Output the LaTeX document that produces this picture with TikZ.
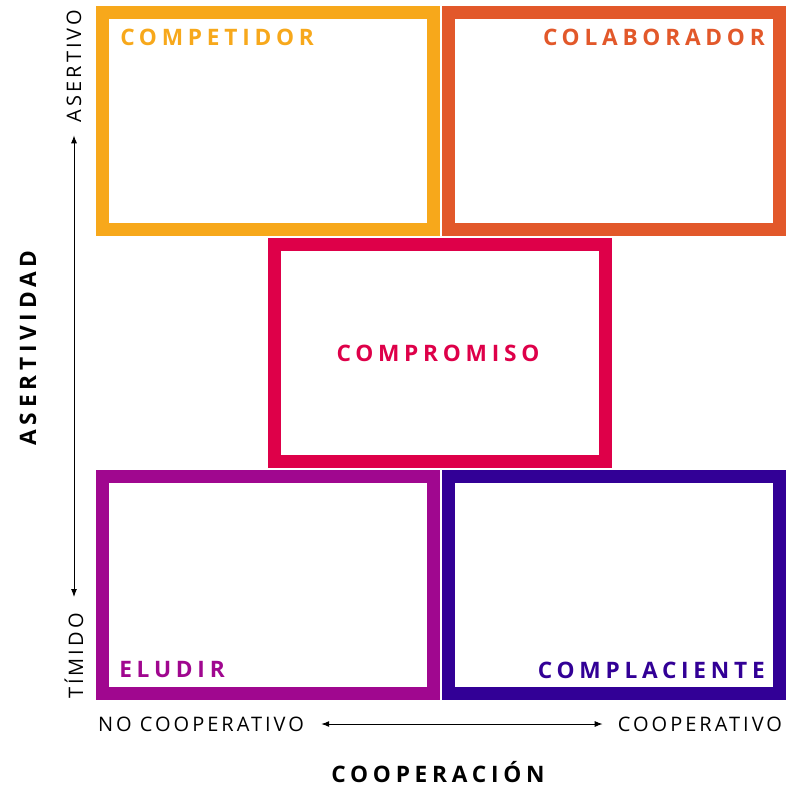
\documentclass[tikz,border=0pt]{standalone}
\usepackage{fontspec}
\usetikzlibrary{arrows.meta}
\setmainfont{Open Sans}
\newfontfamily\titulofont[LetterSpace=21]{Open Sans}
\newfontfamily\ejefont[LetterSpace=15]{Open Sans}
\definecolor{amarillo}{HTML}{F7A81B}
\definecolor{naranja}{HTML}{E2582A}
\definecolor{carmin}{HTML}{DE0049}
\definecolor{morado}{HTML}{A0078F}
\definecolor{anil}{HTML}{320096}

\begin{document}
\begin{tikzpicture}[x=0.75pt,y=-0.75pt,
  caja/.style={draw=#1,line width=9.75pt,minimum width=248.25pt,minimum height=162.75pt,inner sep=0pt},
  titulo/.style={text=#1,font=\titulofont\bfseries\fontsize{17}{19}\selectfont,inner sep=0pt},
  eje/.style={font=\ejefont\fontsize{15}{17}\selectfont,inner sep=0pt},
  ejetitulo/.style={font=\titulofont\bfseries\fontsize{17}{19}\selectfont,inner sep=0pt},
  flecha/.style={line width=0.75pt,{Latex[length=6pt,width=4.5pt]}-{Latex[length=6pt,width=4.5pt]}}]
\useasboundingbox (0,0) rectangle (789,792);

% cajas
\node[caja=amarillo] (competidor) at (268,121) {};
\node[caja=naranja] (colaborador) at (614,121) {};
\node[caja=carmin] (compromiso) at (440,353) {};
\node[caja=morado] (eludir) at (268,585) {};
\node[caja=anil] (complaciente) at (614,585) {};

% nombres
\node[titulo=amarillo,anchor=west] (tcompetidor) at (120,37) {COMPETIDOR};
\node[titulo=naranja,anchor=east] (tcolaborador) at (765,37) {COLABORADOR};
\node[titulo=carmin] (tcompromiso) at (438,353) {COMPROMISO};
\node[titulo=morado,anchor=west] (teludir) at (119,670) {ELUDIR};
\node[titulo=anil,anchor=east] (tcomplaciente) at (765,670) {COMPLACIENTE};

% ejes
\node[eje,rotate=90] (asertivo) at (74,66) {ASERTIVO};
\node[eje,rotate=90] (timido) at (74,656) {TÍMIDO};
\node[eje] (nocoop) at (201,724) {NO COOPERATIVO};
\node[eje] (coop) at (700,724) {COOPERATIVO};
\node[ejetitulo,anchor=base] (cooperacion) at (438,782) {COOPERACIÓN};
\node[ejetitulo,rotate=90] (asertividad) at (28,348) {ASERTIVIDAD};

\draw[flecha,shorten <=9.75pt,shorten >=12pt] (asertivo) -- (timido);
\draw[flecha,shorten <=12.75pt,shorten >=11.25pt] (nocoop) -- (coop);
\end{tikzpicture}
\end{document}
